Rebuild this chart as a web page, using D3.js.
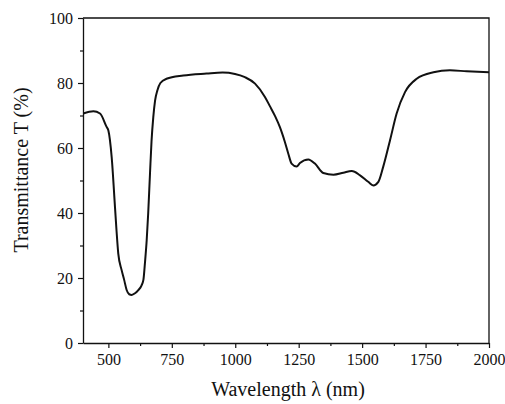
<!DOCTYPE html>
<html>
<head>
<meta charset="utf-8">
<script src="https://cdn.jsdelivr.net/npm/d3@7"></script>
<style>
  body { margin: 0; background: #fff; }
  svg text { font-family: "Liberation Serif", "Times New Roman", Times, serif; fill: #111; }
</style>
</head>
<body>
<svg></svg>
<script>
const wSvg = 505, hSvg = 404;
const serif = "'Liberation Serif', 'Times New Roman', Times, serif";

// spectrum
const wavelength = [401, 441, 467, 493, 500, 513, 526, 532, 539, 552, 562, 572, 582, 592, 605, 618, 630, 638, 644, 651, 657, 664, 670, 677, 684, 693, 705, 729, 795, 887, 950, 999, 1038, 1078, 1117, 1137, 1157, 1176, 1195, 1210, 1222, 1242, 1255, 1288, 1314, 1347, 1387, 1426, 1459, 1492, 1524, 1544, 1564, 1583, 1610, 1636, 1669, 1715, 1781, 1846, 1912, 2000];
const transmittance = [70.6, 71.3, 70.6, 66.5, 65.4, 57.2, 41.9, 34.7, 27.5, 22.5, 19.5, 16.3, 15.0, 14.8, 15.3, 16.3, 17.6, 19.4, 24.5, 31.6, 40.0, 52.1, 62.0, 69.5, 74.6, 77.7, 80.0, 81.3, 82.3, 82.9, 83.2, 82.8, 81.8, 79.8, 75.7, 72.8, 69.8, 66.4, 62.0, 58.0, 55.2, 54.3, 55.4, 56.5, 55.2, 52.3, 51.8, 52.4, 52.9, 51.6, 49.6, 48.5, 49.6, 54.2, 62.4, 70.6, 77.2, 81.3, 83.3, 83.9, 83.6, 83.3];

const xMajor = [500, 750, 1000, 1250, 1500, 1750, 2000];
const xMinor = [625, 875, 1125, 1375, 1625, 1875];
const yMajor = [0, 20, 40, 60, 80, 100];
const yMinor = [10, 30, 50, 70, 90];

const margin = { top: 18, right: 16, bottom: 61, left: 83 };

const svg = d3.select("svg")
    .attr("width", wSvg)
    .attr("height", hSvg)
    .style("display", "block");

const x = d3.scaleLinear().domain([400, 2000]).range([margin.left, wSvg - margin.right]);
const y = d3.scaleLinear().domain([0, 100]).range([hSvg - margin.bottom, margin.top]);

// minor ticks first, then major axes on top
svg.append("g")
    .attr("transform", `translate(0,${y(0)})`)
    .call(d3.axisBottom(x).tickValues(xMinor).tickSize(3).tickFormat(""))
    .call(g => g.select(".domain").remove());

svg.append("g")
    .attr("transform", `translate(${x(400)},0)`)
    .call(d3.axisLeft(y).tickValues(yMinor).tickSize(3).tickFormat(""))
    .call(g => g.select(".domain").remove());

svg.append("g")
    .attr("transform", `translate(0,${y(0)})`)
    .call(d3.axisBottom(x).tickValues(xMajor).tickSize(5).tickSizeOuter(0).tickPadding(6).tickFormat(d3.format("d")));

svg.append("g")
    .attr("transform", `translate(${x(400)},0)`)
    .call(d3.axisLeft(y).tickValues(yMajor).tickSize(5).tickSizeOuter(0).tickPadding(5));

svg.selectAll("g").attr("font-family", serif);
svg.selectAll(".tick line").attr("stroke", "#111").attr("stroke-width", 1.2);
svg.selectAll(".domain").attr("stroke", "#111").attr("stroke-width", 1.3);
svg.selectAll(".tick text")
    .attr("font-family", serif)
    .attr("font-size", 16)
    .attr("fill", "#111");

// top and right frame lines
svg.append("path")
    .attr("d", `M${x(400)},${y(100)}H${x(2000)}V${y(0)}`)
    .attr("fill", "none")
    .attr("stroke", "#111")
    .attr("stroke-width", 1.3);

const points = wavelength.map((w, i) => [w, transmittance[i]]);

svg.append("path")
    .datum(points)
    .attr("fill", "none")
    .attr("stroke", "#111")
    .attr("stroke-width", 2)
    .attr("stroke-linejoin", "round")
    .attr("d", d3.line()
        .x(d => x(d[0]))
        .y(d => y(d[1]))
        .curve(d3.curveMonotoneX));

svg.append("text")
    .attr("x", 288)
    .attr("y", 396)
    .attr("text-anchor", "middle")
    .attr("font-family", serif)
    .attr("font-size", 20)
    .text("Wavelength λ (nm)");

svg.append("text")
    .attr("transform", "translate(28,170) rotate(-90)")
    .attr("text-anchor", "middle")
    .attr("font-family", serif)
    .attr("font-size", 20)
    .text("Transmittance T (%)");
</script>
</body>
</html>
